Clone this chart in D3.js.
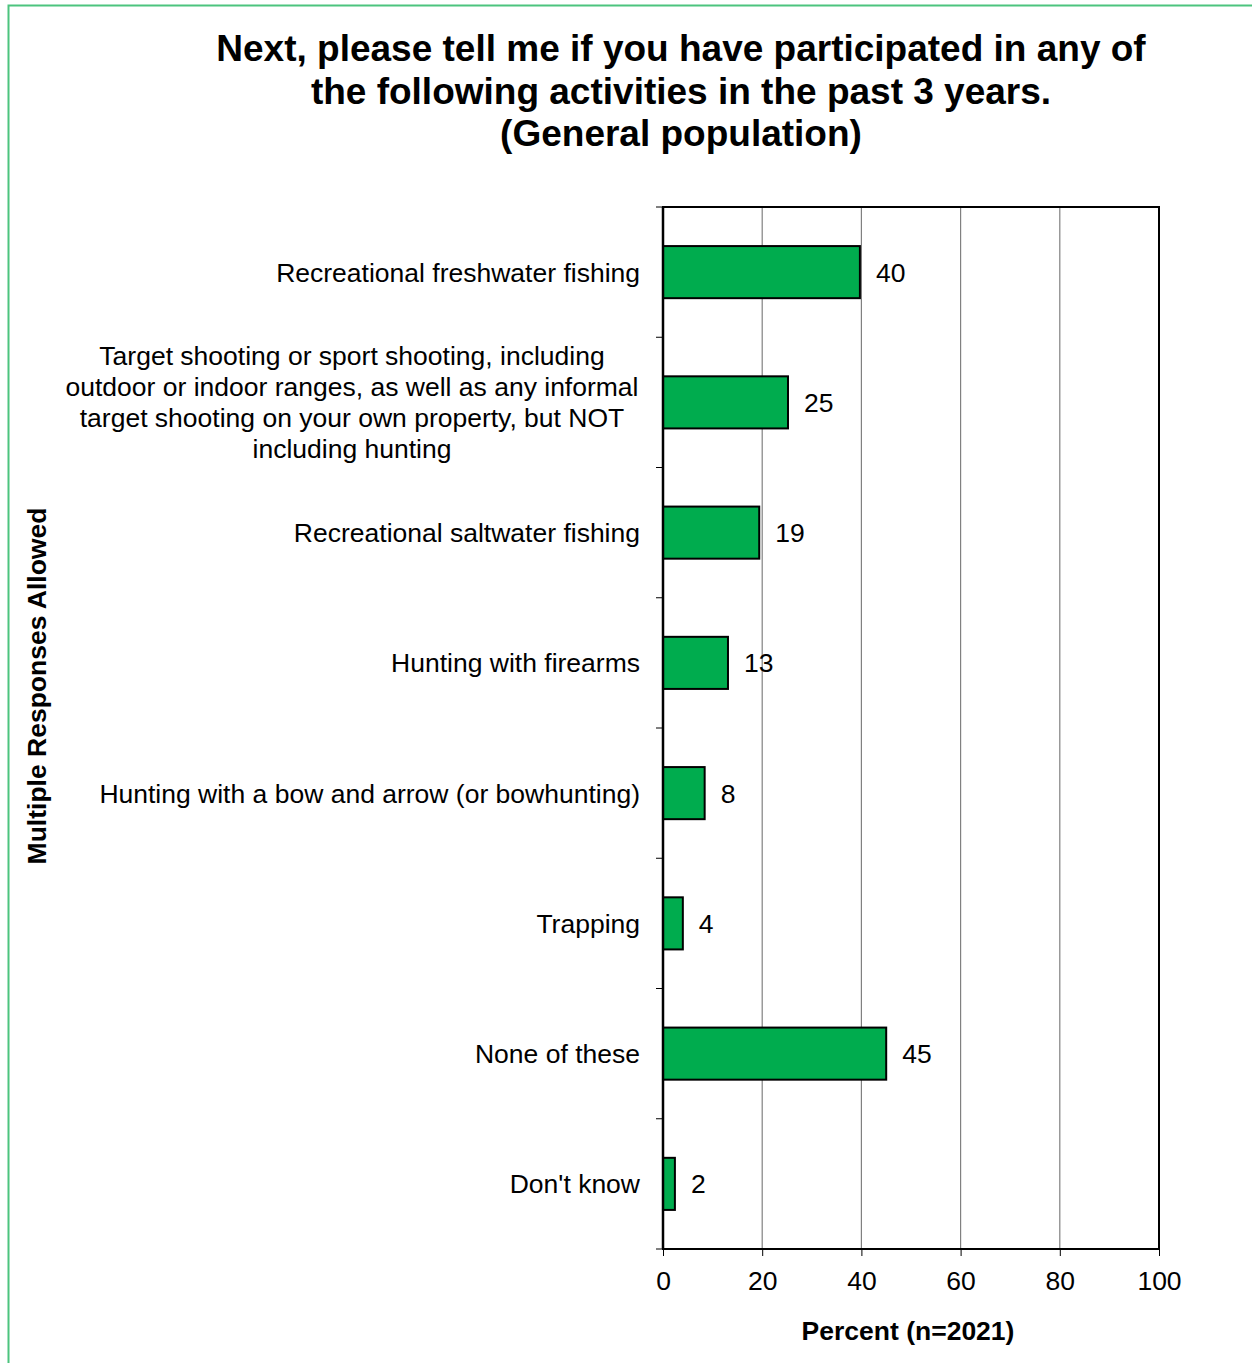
<!DOCTYPE html>
<html><head><meta charset="utf-8">
<script src="https://cdn.jsdelivr.net/npm/d3@7"></script>
<style>body{margin:0;background:#fff}svg{display:block}text{font-family:Arial,"Liberation Sans",sans-serif}</style>
</head><body>
<svg id="c" width="1252" height="1363"></svg>
<script>
const titleLines = ["Next, please tell me if you have participated in any of","the following activities in the past 3 years.","(General population)"];
const categories = [
  ["Recreational freshwater fishing"],
  ["Target shooting or sport shooting, including","outdoor or indoor ranges, as well as any informal","target shooting on your own property, but NOT","including hunting"],
  ["Recreational saltwater fishing"],
  ["Hunting with firearms"],
  ["Hunting with a bow and arrow (or bowhunting)"],
  ["Trapping"],
  ["None of these"],
  ["Don't know"]
];
const values = [39.7, 25.2, 19.4, 13.1, 8.4, 4.0, 45.0, 2.4];
const xTicks = [0, 20, 40, 60, 80, 100];
const xTitle = "Percent (n=2021)";
const yTitle = "Multiple Responses Allowed";

const svg = d3.select("#c");
const L = 663, R = 1159, T = 207, B = 1249;
const FS = 26.5;
const x = d3.scaleLinear().domain([0, 100]).range([L, R]);
const y = d3.scaleBand().domain(d3.range(categories.length)).range([T, B]).paddingInner(0.6).paddingOuter(0.3);
const band = d3.scaleBand().domain(d3.range(categories.length)).range([T, B]);

// outer border
svg.append("rect").attr("x", 8.5).attr("y", 5.5).attr("width", 1300).attr("height", 1400)
  .attr("fill", "none").attr("stroke", "#4cc47e").attr("stroke-width", 2);

// title
svg.append("text").attr("text-anchor", "middle").attr("font-weight", "bold").attr("font-size", 37)
  .selectAll("tspan").data(titleLines).join("tspan")
  .attr("x", 681).attr("y", (d, i) => 61 + i * 42.5).text(d => d);

// gridlines
svg.append("g").selectAll("line").data(xTicks.filter(t => t > 0 && t < 100)).join("line")
  .attr("x1", d => x(d)).attr("x2", d => x(d)).attr("y1", T).attr("y2", B)
  .attr("stroke", "#808080").attr("stroke-width", 1.2);

// bars
svg.append("g").selectAll("rect").data(values).join("rect")
  .attr("x", x(0)).attr("y", (d, i) => y(i)).attr("width", d => x(d) - x(0)).attr("height", y.bandwidth())
  .attr("fill", "#00ac4e").attr("stroke", "#000").attr("stroke-width", 2);

// value labels
svg.append("g").selectAll("text").data(values).join("text")
  .attr("x", d => x(d) + 16).attr("y", (d, i) => y(i) + y.bandwidth() / 2 + 9.5)
  .attr("font-size", FS).text(d => d3.format(".0f")(d));

// frame
svg.append("rect").attr("x", L).attr("y", T).attr("width", R - L).attr("height", B - T)
  .attr("fill", "none").attr("stroke", "#000").attr("stroke-width", 2);

// y axis ticks (band boundaries)
const yb = d3.range(categories.length + 1).map(i => i < categories.length ? band(i) : B);
svg.append("g").selectAll("line").data(yb).join("line")
  .attr("x1", L - 7).attr("x2", L).attr("y1", d => d).attr("y2", d => d)
  .attr("stroke", "#000").attr("stroke-width", 1);
svg.append("line").attr("x1", L).attr("x2", L).attr("y1", T).attr("y2", B).attr("stroke", "#000").attr("stroke-width", 2.5);

// x axis
const xAxis = svg.append("g").attr("transform", `translate(0,${B})`)
  .call(d3.axisBottom(x).tickValues(xTicks).tickSize(7).tickPadding(15));
xAxis.select(".domain").remove();
xAxis.selectAll("line").attr("stroke", "#000");
xAxis.selectAll("text").attr("font-size", FS).attr("font-family", "Arial, 'Liberation Sans', sans-serif").attr("fill", "#000");

// category labels
categories.forEach((lines, i) => {
  const cy = band(i) + band.bandwidth() / 2;
  const multi = lines.length > 1;
  const lh = 31;
  const t = svg.append("text").attr("font-size", FS).attr("text-anchor", multi ? "middle" : "end");
  lines.forEach((ln, j) => {
    t.append("tspan").attr("x", multi ? 352 : 640)
      .attr("y", cy + (j - (lines.length - 1) / 2) * lh + 9.5).text(ln);
  });
});

// axis titles
svg.append("text").attr("x", 908).attr("y", 1340).attr("text-anchor", "middle")
  .attr("font-weight", "bold").attr("font-size", FS).text(xTitle);
svg.append("text").attr("transform", "translate(46,686) rotate(-90)").attr("text-anchor", "middle")
  .attr("font-weight", "bold").attr("font-size", FS).text(yTitle);
</script>
</body></html>
